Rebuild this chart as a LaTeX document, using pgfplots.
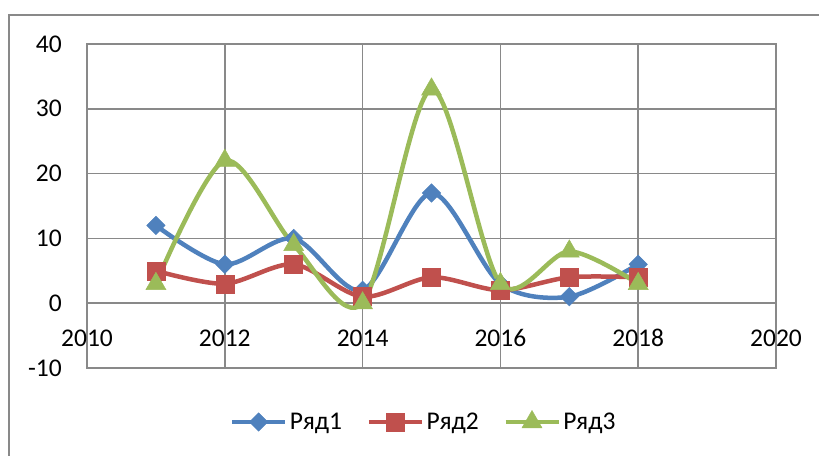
\documentclass[border=0pt]{standalone}
\usepackage{fontspec}
\setmainfont{Carlito}
\usepackage{pgfplots}
\pgfplotsset{compat=1.18}
\definecolor{sA}{HTML}{4F81BD}
\definecolor{sB}{HTML}{C0504D}
\definecolor{sC}{HTML}{9BBB59}
\definecolor{gridgray}{HTML}{898989}
\begin{document}
\begin{tikzpicture}
\useasboundingbox (0,0) rectangle (819pt,455pt);
\draw[color=gridgray, line width=1.4pt] (9pt,440pt) rectangle (860pt,-30pt);
\begin{axis}[
  at={(87pt,87pt)}, anchor=south west,
  scale only axis, width=689pt, height=324pt,
  xmin=2010, xmax=2020, ymin=-10, ymax=40,
  xtick={2010,2012,2014,2016,2018,2020},
  xticklabels={2010,2012,2014,2016,2018,2020},
  ytick={-10,0,10,20,30,40},
  yticklabels={-10,0,10,20,30,40},
  grid=major,
  grid style={color=gridgray, line width=1.5pt},
  axis line style={color=gridgray, line width=1.5pt},
  major tick length=0pt,
  tick style={draw=none},
  every tick label/.append style={font=\fontsize{25.5}{30}\selectfont, text=black},
  xticklabel style={anchor=center, yshift=30pt},
  yticklabel style={anchor=east, inner sep=0pt, xshift=-25pt},
  legend columns=-1,
  legend style={at={(0.489,-0.1667)}, anchor=center, draw=none, fill=none,
    font=\fontsize{25.5}{30}\selectfont,
    nodes={inner sep=2.5pt},
    /tikz/every even column/.append style={column sep=22pt}},
  legend image code/.code={\draw[mark repeat=2,mark phase=2,#1] plot coordinates {(0pt,0pt) (26.5pt,0pt) (53pt,0pt)};},
]
\addplot[color=sA, line width=4.5pt, smooth, mark=square*, mark size=6.5pt,
  mark options={rotate=45, solid, fill=sA, draw=sA, line width=0.5pt}]
  coordinates {(2011,12) (2012,6) (2013,10) (2014,2) (2015,17) (2016,3) (2017,1) (2018,6)};
\addlegendentry{Ряд1}
\addplot[color=sB, line width=4.5pt, smooth, mark=square*, mark size=9pt,
  mark options={solid, fill=sB, draw=sB, line width=0.5pt}]
  coordinates {(2011,5) (2012,3) (2013,6) (2014,1) (2015,4) (2016,2) (2017,4) (2018,4)};
\addlegendentry{Ряд2}
\addplot[color=sC, line width=4.5pt, smooth, mark=triangle*, mark size=11.5pt,
  mark options={solid, fill=sC, draw=sC, line width=0.5pt}]
  coordinates {(2011,3) (2012,22) (2013,9) (2014,0) (2015,33) (2016,3) (2017,8) (2018,3)};
\addlegendentry{Ряд3}
\end{axis}
\end{tikzpicture}
\end{document}
